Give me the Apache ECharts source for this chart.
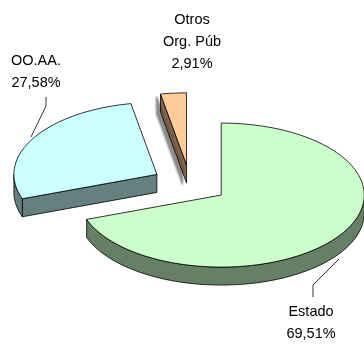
<!DOCTYPE html>
<html>
<head>
<meta charset="utf-8">
<script src="https://cdn.jsdelivr.net/npm/echarts@6/dist/echarts.min.js"></script>
<style>
  html, body { margin: 0; padding: 0; background: #ffffff; }
  #chart { width: 364px; height: 344px; }
</style>
</head>
<body>
<div id="chart"></div>
<script>
// Budget share by type of public body (percent)
const categories = ['Estado', 'OO.AA.', 'Otros\nOrg. Púb'];
const shares = [69.51, 27.58, 2.91];

// Fill colours: top face and extruded side
const topColors = ['#CCFFCC', '#CCFFFF', '#FFCC99'];
const sideColors = ['#668066', '#668080', '#80664D'];

// Tilted-pie geometry (pixels)
const pie = { cx: 190, cy: 184, rx: 143, ry: 72, depth: 18, explode: 0.267 };

// Label anchors (centre of the text block) and leader polylines
const labelLayout = [
  { x: 311, y: 323, line: [[313, 297], [313, 285], [339, 259]] },
  { x: 36, y: 72, line: [[46, 97], [46, 106], [31, 137]] },
  { x: 192, y: 42, line: null }
];

const total = shares.reduce((a, b) => a + b, 0);
const starts = [];
let acc = 0;
shares.forEach(v => { starts.push(acc / total * 360); acc += v; });

const rad = d => d * Math.PI / 180;

function pt(cx, cy, deg, dy) {
  // angle measured clockwise from 12 o'clock
  return [cx + pie.rx * Math.sin(rad(deg)), cy - pie.ry * Math.cos(rad(deg)) + (dy || 0)];
}

function arcPts(cx, cy, a0, a1, dy) {
  const pts = [];
  const n = Math.max(2, Math.ceil((a1 - a0) / 2));
  for (let i = 0; i <= n; i++) pts.push(pt(cx, cy, a0 + (a1 - a0) * i / n, dy));
  return pts;
}

const fmt = v => v.toFixed(2).replace('.', ',') + '%';

function renderItem(params, api) {
  const i = params.dataIndex;
  const value = api.value(0);
  const a0 = starts[i];
  const a1 = a0 + value / total * 360;
  const mid = (a0 + a1) / 2;
  const cx = pie.cx + pie.explode * pie.rx * Math.sin(rad(mid));
  const cy = pie.cy - pie.explode * pie.ry * Math.cos(rad(mid));
  const d = pie.depth;
  const stroke = { stroke: '#000000', lineWidth: 0.8, lineJoin: 'round' };
  const children = [];

  // radial wall on the leading edge, visible when it faces the viewer
  if (Math.sin(rad(a0)) < -1e-6) {
    const p = pt(cx, cy, a0);
    const wall = {
      type: 'polygon',
      shape: { points: [[cx, cy], p, [p[0], p[1] + d], [cx, cy + d]] },
      style: Object.assign({ fill: sideColors[i] }, stroke)
    };
    if (i === 2) {
      wall.style.shadowColor = 'rgba(0,0,0,0.45)';
      wall.style.shadowBlur = 2;
      wall.style.shadowOffsetX = -4;
      wall.style.shadowOffsetY = 2;
    }
    children.push(wall);
  }
  // radial wall on the trailing edge
  if (Math.sin(rad(a1)) > 1e-6) {
    const p = pt(cx, cy, a1);
    children.push({
      type: 'polygon',
      shape: { points: [p, [cx, cy], [cx, cy + d], [p[0], p[1] + d]] },
      style: Object.assign({ fill: sideColors[i] }, stroke)
    });
  }
  // curved outer wall: the front half of the rim (90..270 degrees)
  const w0 = Math.max(a0, 90), w1 = Math.min(a1, 270);
  if (w1 > w0) {
    const topArc = arcPts(cx, cy, w0, w1, 0);
    const botArc = arcPts(cx, cy, w0, w1, d).reverse();
    children.push({
      type: 'polygon',
      shape: { points: topArc.concat(botArc) },
      style: Object.assign({ fill: sideColors[i] }, stroke)
    });
  }
  // top face
  children.push({
    type: 'polygon',
    shape: { points: [[cx, cy]].concat(arcPts(cx, cy, a0, a1, 0)) },
    style: Object.assign({ fill: topColors[i] }, stroke)
  });

  // label and leader line
  const lab = labelLayout[i];
  if (lab.line) {
    children.push({
      type: 'polyline',
      shape: { points: lab.line },
      style: { stroke: '#000000', lineWidth: 0.8, fill: null }
    });
  }
  children.push({
    type: 'text',
    style: {
      text: categories[i] + '\n' + fmt(value),
      x: lab.x, y: lab.y,
      align: 'center', verticalAlign: 'middle',
      font: '14.5px "Liberation Sans", Arial, sans-serif',
      lineHeight: 22,
      fill: '#000000'
    }
  });

  return { type: 'group', children: children };
}

const chart = echarts.init(document.getElementById('chart'), null, { renderer: 'canvas' });
chart.setOption({
  animation: false,
  backgroundColor: '#ffffff',
  series: [{
    type: 'custom',
    coordinateSystem: 'none',
    renderItem: renderItem,
    data: shares.map((v, k) => ({ name: categories[k], value: [v] }))
  }]
});
</script>
</body>
</html>
